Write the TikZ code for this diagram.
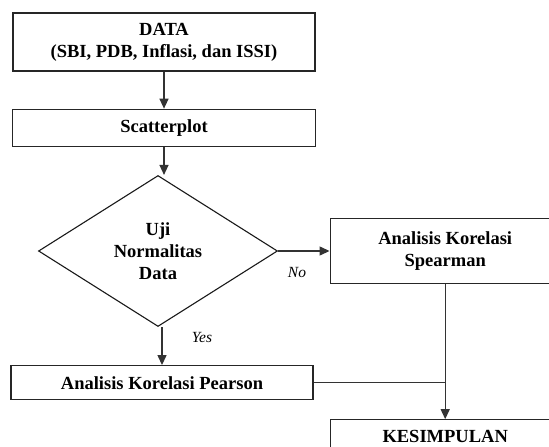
\documentclass[tikz,border=0pt]{standalone}
\usepackage{fontspec}
\setmainfont{Liberation Serif}
\usetikzlibrary{arrows.meta,positioning,shapes.geometric}

\begin{document}
\begin{tikzpicture}[
        x=1pt, y=-1pt,
        font=\fontsize{18.5}{22}\selectfont\bfseries,
        box/.style={rectangle, draw=black!85, line width=1.3pt, align=center, inner sep=0pt},
        decision/.style={diamond, draw=black!90, line width=1.1pt, align=center, inner sep=0pt, minimum width=239pt, minimum height=151pt},
        answer/.style={font=\fontsize{15.5}{18}\selectfont\mdseries\itshape},
        link/.style={line width=1.3pt, draw=black!80},
        arrow/.style={-{Triangle[length=10pt, width=9pt]}, line width=1.3pt, draw=black!80}
    ]
        \useasboundingbox (0,0) rectangle (549,447);
        \clip (0,0) rectangle (549,447);

        \node[box, minimum width=302pt, minimum height=58pt] (data) at (164,42) {DATA\\(SBI, PDB, Inflasi, dan ISSI)};
        \node[box, minimum width=303pt, minimum height=37pt, below=37pt of data] (scatter) {Scatterplot};
        \node[decision, below=28pt of scatter, xshift=-6pt] (uji) {Uji\\Normalitas\\Data};
        \node[box, minimum width=230pt, minimum height=65pt, right=51.5pt of uji] (spearman) {Analisis Korelasi\\Spearman};
        \node[box, minimum width=302pt, minimum height=34pt, below=38pt of uji, xshift=4pt] (pearson) {Analisis Korelasi Pearson};
        \node[box, minimum width=229pt, minimum height=34pt, text depth=0pt, below=135pt of spearman] (kesimpulan) {KESIMPULAN};

        \node[answer] (no) at (297,272) {No};
        \node[answer] (yes) at (202,337) {Yes};

        \draw[arrow] (data) -- (scatter);
        \draw[arrow] (scatter) -- (scatter |- uji.north);
        \draw[arrow] (uji) -- (spearman);
        \draw[arrow] (pearson |- uji.south) -- (pearson);

        \coordinate (join) at (pearson.east -| spearman.south);
        \draw[link] (pearson) -- (join);
        \draw[arrow] (spearman) -- (kesimpulan);
    \end{tikzpicture}
\end{document}
